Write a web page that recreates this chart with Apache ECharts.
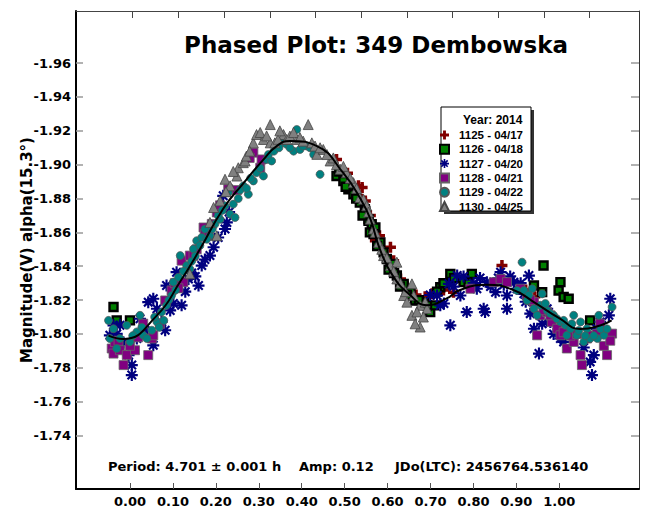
<!DOCTYPE html>
<html>
<head>
<meta charset="utf-8">
<title>Phased Plot: 349 Dembowska</title>
<script src="https://cdn.jsdelivr.net/npm/echarts@6.0.0/dist/echarts.min.js"></script>
<style>
  html, body { margin: 0; padding: 0; background: #fff; }
  #chart { width: 647px; height: 508px; }
</style>
</head>
<body>
<div id="chart"></div>
<script>
// tick labels
const xTicks = [0, 0.1, 0.2, 0.3, 0.4, 0.5, 0.6, 0.7, 0.8, 0.9, 1.0];
const yTicks = [-1.96, -1.94, -1.92, -1.90, -1.88, -1.86, -1.84, -1.82, -1.80, -1.78, -1.76, -1.74];

// sessions (legend names)
const sessions = ['1125 - 04/17', '1126 - 04/18', '1127 - 04/20', '1128 - 04/21', '1129 - 04/22', '1130 - 04/25'];

// [phase, magnitude]
const s1125 = [
  [0.446, -1.9031], [0.470, -1.8950], [0.494, -1.8875], [0.501, -1.8796], [0.502, -1.8865],
  [0.509, -1.8786], [0.520, -1.8700], [0.531, -1.8551], [0.540, -1.8580], [0.564, -1.8512],
  [0.571, -1.8433], [0.586, -1.8325], [0.600, -1.8280], [0.620, -1.8230], [0.640, -1.8220],
  [0.655, -1.8237], [0.680, -1.8260], [0.702, -1.8247], [0.808, -1.8404], [0.860, -1.8260],
  [0.880, -1.8220]
];
const s1126 = [
  [-0.042, -1.8159], [-0.035, -1.8080], [-0.006, -1.8080], [0.446, -1.8933], [0.461, -1.8904],
  [0.472, -1.8855], [0.483, -1.8825], [0.497, -1.8776], [0.508, -1.8737], [0.509, -1.8727],
  [0.516, -1.8678], [0.516, -1.8669], [0.519, -1.8600], [0.523, -1.8649], [0.531, -1.8629],
  [0.542, -1.8541], [0.549, -1.8482], [0.556, -1.8443], [0.567, -1.8414], [0.578, -1.8345],
  [0.593, -1.8296], [0.608, -1.8247], [0.618, -1.8198], [0.637, -1.8188], [0.651, -1.8129],
  [0.659, -1.8169], [0.673, -1.8276], [0.695, -1.8355], [0.724, -1.8306], [0.742, -1.8355],
  [0.878, -1.8286], [0.896, -1.8247], [0.899, -1.8404], [0.932, -1.8257], [0.936, -1.8306],
  [0.943, -1.8218], [0.954, -1.8208], [1.001, -1.8080],
  [0.452, -1.8960], [0.466, -1.8870], [0.489, -1.8800], [0.503, -1.8700], [0.527, -1.8590],
  [0.535, -1.8520], [0.560, -1.8380], [0.572, -1.8360], [0.585, -1.8280], [0.600, -1.8230],
  [0.626, -1.8200], [0.644, -1.8170], [0.666, -1.8250], [0.680, -1.8300], [0.703, -1.8330],
  [0.735, -1.8300]
];
const s1127 = [
  [-0.050, -1.7992], [-0.042, -1.8051], [-0.028, -1.8051], [-0.009, -1.7875], [-0.002, -1.7816],
  [-0.002, -1.7757], [0.009, -1.7973], [0.016, -1.8090], [0.034, -1.8188], [0.045, -1.8208],
  [0.045, -1.7933], [0.053, -1.8149], [0.063, -1.8071], [0.071, -1.8022], [0.074, -1.8286],
  [0.082, -1.8139], [0.096, -1.8365], [0.107, -1.8169], [0.122, -1.8325], [0.144, -1.8286],
  [0.151, -1.8404], [0.169, -1.8463], [0.177, -1.8512], [0.198, -1.8816], [0.202, -1.8620],
  [0.206, -1.8659],
  [-0.035, -1.8000], [-0.020, -1.7950], [0.027, -1.8020], [0.089, -1.8180], [0.115, -1.8250],
  [0.129, -1.8360], [0.137, -1.8340], [0.158, -1.8440], [0.187, -1.8570], [0.211, -1.8720],
  [0.666, -1.8227], [0.673, -1.8169], [0.692, -1.8296], [0.695, -1.8051], [0.710, -1.8345],
  [0.717, -1.8227], [0.731, -1.8129], [0.753, -1.8267], [0.768, -1.8149], [0.771, -1.8129],
  [0.775, -1.8306], [0.794, -1.8247], [0.805, -1.8365], [0.819, -1.8227], [0.819, -1.8149],
  [0.834, -1.8306], [0.841, -1.8267], [0.856, -1.8237], [0.867, -1.8345], [0.878, -1.8031],
  [0.889, -1.7884], [0.907, -1.8149], [0.914, -1.8071], [0.936, -1.7973], [0.943, -1.7953],
  [1.001, -1.7835], [1.005, -1.7757], [1.009, -1.7875], [1.023, -1.8071], [1.042, -1.8110],
  [1.045, -1.8208],
  [0.651, -1.8230], [0.681, -1.8180], [0.702, -1.8280], [0.724, -1.8340], [0.746, -1.8300],
  [0.760, -1.8330], [0.783, -1.8280], [0.800, -1.8330], [0.812, -1.8290], [0.826, -1.8340],
  [0.849, -1.8300], [0.860, -1.8190], [0.870, -1.8120], [0.896, -1.8060], [0.921, -1.8000],
  [0.965, -1.8010], [0.987, -1.7920], [1.016, -1.8030], [1.038, -1.8000]
];
const s1128 = [
  [-0.046, -1.7914], [-0.042, -1.7884], [-0.039, -1.7953], [-0.028, -1.7904], [-0.020, -1.7816],
  [-0.013, -1.7875], [0.005, -1.7904], [0.023, -1.8061], [0.034, -1.7875], [0.042, -1.7973],
  [0.045, -1.7992], [0.071, -1.8198], [0.085, -1.8257], [0.107, -1.8433], [0.111, -1.8306],
  [0.125, -1.8463], [0.155, -1.8629], [0.158, -1.8590], [0.166, -1.8580], [0.184, -1.8718],
  [0.209, -1.8855], [0.264, -1.9071], [0.279, -1.8982], [0.282, -1.9031],
  [-0.031, -1.7960], [-0.006, -1.7930], [0.012, -1.7980], [0.060, -1.8060], [0.092, -1.8300],
  [0.100, -1.8270], [0.133, -1.8460], [0.140, -1.8500], [0.173, -1.8650], [0.191, -1.8760],
  [0.228, -1.8850], [0.256, -1.9040],
  [0.739, -1.8267], [0.790, -1.8306], [0.805, -1.8325], [0.819, -1.8306], [0.848, -1.8267],
  [0.863, -1.8227], [0.878, -1.8188], [0.885, -1.7992], [0.892, -1.8110], [0.907, -1.8129],
  [0.917, -1.8071], [0.929, -1.8031], [0.936, -1.7992], [0.950, -1.7914], [0.965, -1.7953],
  [0.980, -1.7875], [0.983, -1.7816], [0.994, -1.7973], [1.009, -1.7992], [1.023, -1.8061],
  [1.038, -1.7875], [1.049, -1.8002],
  [0.870, -1.8200], [0.899, -1.8140], [0.914, -1.8110], [0.943, -1.8010], [0.958, -1.7990],
  [0.972, -1.8000], [1.001, -1.7990], [1.016, -1.8000], [1.031, -1.7930], [1.045, -1.7960]
];
const s1129 = [
  [-0.053, -1.8080], [-0.050, -1.7973], [-0.042, -1.8031], [-0.035, -1.7914], [-0.028, -1.7973],
  [-0.013, -1.8051], [-0.006, -1.7953], [0.009, -1.8012], [0.016, -1.8110], [0.023, -1.7992],
  [0.031, -1.7973], [0.042, -1.8022], [0.053, -1.8071], [0.063, -1.8129], [0.074, -1.8169],
  [0.085, -1.8227], [0.089, -1.8306], [0.100, -1.8335], [0.104, -1.8463], [0.118, -1.8404],
  [0.125, -1.8384], [0.133, -1.8502], [0.140, -1.8551], [0.147, -1.8522], [0.158, -1.8620],
  [0.169, -1.8580], [0.180, -1.8649], [0.191, -1.8678], [0.202, -1.8757], [0.209, -1.8835],
  [0.213, -1.8708], [0.220, -1.8767], [0.224, -1.8688], [0.242, -1.8875], [0.253, -1.8825],
  [0.264, -1.8904], [0.271, -1.8953], [0.286, -1.8933], [0.293, -1.9031], [0.304, -1.9022],
  [0.315, -1.9110], [0.326, -1.9129], [0.352, -1.9080], [0.359, -1.9208], [0.366, -1.9090],
  [0.381, -1.9110], [0.410, -1.8943],
  [0.000, -1.7990], [0.020, -1.8040], [0.048, -1.8100], [0.058, -1.8040], [0.068, -1.8080],
  [0.079, -1.8200], [0.094, -1.8260], [0.111, -1.8370], [0.129, -1.8430], [0.137, -1.8460],
  [0.151, -1.8570], [0.162, -1.8560], [0.174, -1.8620], [0.187, -1.8700], [0.196, -1.8730],
  [0.231, -1.8800], [0.235, -1.8850], [0.249, -1.8860], [0.258, -1.8920], [0.279, -1.8980],
  [0.297, -1.9060], [0.309, -1.9080], [0.320, -1.9100], [0.337, -1.9120], [0.344, -1.9100],
  [0.373, -1.9110], [0.388, -1.9100], [0.396, -1.9060],
  [0.841, -1.8257], [0.852, -1.8424], [0.856, -1.8257], [0.863, -1.8198], [0.874, -1.8267],
  [0.878, -1.8149], [0.885, -1.8110], [0.892, -1.8169], [0.896, -1.8237], [0.907, -1.8139],
  [0.921, -1.8110], [0.936, -1.8071], [0.947, -1.8051], [0.950, -1.7992], [0.958, -1.8031],
  [0.965, -1.8110], [0.972, -1.7992], [0.980, -1.8071], [0.987, -1.7953], [0.994, -1.8031],
  [1.001, -1.7973], [1.017, -1.7973], [1.020, -1.8110], [1.031, -1.7992], [1.049, -1.8159],
  [0.867, -1.8230], [0.903, -1.8180], [0.914, -1.8120], [0.928, -1.8090], [0.943, -1.8080],
  [0.961, -1.8060], [0.976, -1.8020], [0.990, -1.7990], [1.009, -1.7990], [1.024, -1.8030],
  [1.038, -1.8030]
];
const s1130 = [
  [0.125, -1.8355], [0.169, -1.8659], [0.177, -1.8747], [0.184, -1.8580], [0.191, -1.8786],
  [0.202, -1.8914], [0.213, -1.8875], [0.228, -1.8933], [0.231, -1.8982], [0.242, -1.9012],
  [0.246, -1.9022], [0.249, -1.9051], [0.264, -1.9129], [0.271, -1.9178], [0.286, -1.9149],
  [0.301, -1.9237], [0.301, -1.9129], [0.311, -1.9129], [0.330, -1.9178], [0.337, -1.9149],
  [0.344, -1.9169], [0.359, -1.9149], [0.373, -1.9139], [0.384, -1.9237], [0.392, -1.9129],
  [0.403, -1.9061], [0.417, -1.9090], [0.432, -1.9022], [0.454, -1.8973], [0.468, -1.8953],
  [0.483, -1.8894], [0.497, -1.8806], [0.505, -1.8796], [0.512, -1.8757], [0.520, -1.8678],
  [0.538, -1.8541], [0.549, -1.8463], [0.564, -1.8404], [0.578, -1.8424], [0.578, -1.8325],
  [0.593, -1.8227], [0.600, -1.8188], [0.611, -1.8296], [0.611, -1.8110], [0.615, -1.8227],
  [0.629, -1.8169], [0.629, -1.8041], [0.640, -1.8188], [0.644, -1.8149],
  [0.439, -1.9040], [0.446, -1.9000], [0.461, -1.8990], [0.476, -1.8920], [0.490, -1.8860],
  [0.516, -1.8720], [0.527, -1.8620], [0.531, -1.8600], [0.545, -1.8500], [0.556, -1.8450],
  [0.571, -1.8370], [0.586, -1.8300], [0.597, -1.8250], [0.622, -1.8130], [0.636, -1.8100],
  [0.618, -1.8060], [0.204, -1.8840], [0.220, -1.8960], [0.256, -1.9080], [0.279, -1.9190],
  [0.293, -1.9170], [0.318, -1.9150], [0.322, -1.9200], [0.352, -1.9190], [0.366, -1.9160],
  [0.399, -1.9110], [0.410, -1.9100], [0.425, -1.9060]
];
// fitted curve
const fitCurve = [
  [-0.053, -1.799], [-0.021, -1.797], [0.053, -1.811], [0.104, -1.831], [0.147, -1.850],
  [0.198, -1.874], [0.242, -1.889], [0.286, -1.903], [0.315, -1.911], [0.344, -1.914],
  [0.403, -1.911], [0.461, -1.895], [0.498, -1.880], [0.520, -1.868], [0.541, -1.850],
  [0.570, -1.834], [0.607, -1.823], [0.643, -1.817], [0.687, -1.821], [0.716, -1.826],
  [0.775, -1.829], [0.833, -1.826], [0.877, -1.819], [0.935, -1.809], [0.979, -1.803],
  [1.023, -1.805], [1.048, -1.808]
];

// symbols
const plusPath = 'path://M3.4,0H6.6V3.4H10V6.6H6.6V10H3.4V6.6H0V3.4H3.4Z';
const squarePath = 'path://M0,0H10V10H0Z';
const trianglePath = 'path://M5,0L10,10L0,10Z';
function asteriskPath(bars) {
  let d = '';
  for (let i = 0; i < bars; i++) {
    const a = Math.PI * i / bars;
    const c = Math.cos(a), s = Math.sin(a);
    const pts = [[-10, -1.8], [10, -1.8], [10, 1.8], [-10, 1.8]]
      .map(([u, v]) => (10 + u * c - v * s).toFixed(2) + ',' + (10 + u * s + v * c).toFixed(2));
    d += 'M' + pts.join('L') + 'Z';
  }
  return 'path://' + d;
}
const starPath = asteriskPath(4);
const legendIcons = [plusPath, squarePath, starPath, squarePath, 'circle', trianglePath];

const FONT = 'DejaVu Sans';
const chart = echarts.init(document.getElementById('chart'), null, { renderer: 'svg' });

const scatter = (name, data, symbol, size, color, border, bw) => ({
  name, type: 'scatter', data, symbol, symbolSize: size,
  xAxisIndex: 1, yAxisIndex: 0,
  itemStyle: { color, borderColor: border, borderWidth: bw, opacity: 1 },
  emphasis: { disabled: true }
});

const option = {
  animation: false,
  grid: { left: 76, right: 8, top: 11, bottom: 17 },
  graphic: [
    { type: 'text', x: 376, y: 45, z: 10,
      style: { text: 'Phased Plot: 349 Dembowska', fontFamily: FONT, fontWeight: 'bold', fontSize: 23,
        fill: '#000', align: 'center', verticalAlign: 'middle' } },
    { type: 'text', x: 108, y: 466, z: 10,
      style: { text: 'Period: 4.701 ± 0.001 h', fontFamily: FONT, fontWeight: 'bold', fontSize: 13,
        fill: '#000', align: 'left', verticalAlign: 'middle' } },
    { type: 'text', x: 299, y: 466, z: 10,
      style: { text: 'Amp: 0.12', fontFamily: FONT, fontWeight: 'bold', fontSize: 13,
        fill: '#000', align: 'left', verticalAlign: 'middle' } },
    { type: 'text', x: 395, y: 466, z: 10,
      style: { text: 'JDo(LTC): 2456764.536140', fontFamily: FONT, fontWeight: 'bold', fontSize: 13,
        fill: '#000', align: 'left', verticalAlign: 'middle' } },
    // legend box with drop shadow
    { type: 'rect', z: 20, shape: { x: 444, y: 110, width: 90, height: 104 }, style: { fill: '#333' } },
    { type: 'rect', z: 21, shape: { x: 441, y: 107, width: 90, height: 104 },
      style: { fill: '#fff', stroke: '#000', lineWidth: 1 } },
    { type: 'text', x: 463, y: 120, z: 22,
      style: { text: 'Year: 2014', fontFamily: 'Liberation Sans', fontWeight: 'bold', fontSize: 12,
        fill: '#000', align: 'left', verticalAlign: 'middle' } }
  ],
  legend: {
    data: sessions.map((name, i) => ({ name, icon: legendIcons[i] })),
    orient: 'vertical', left: 439, top: 129, z: 30,
    itemWidth: 19, itemHeight: 9, itemGap: 2.3, padding: 0, selectedMode: false, symbolKeepAspect: true,
    textStyle: { fontFamily: 'Liberation Sans', fontWeight: 'bold', fontSize: 11.5, color: '#000', lineHeight: 12 }
  },
  xAxis: [
    { type: 'value', position: 'bottom', min: -0.1258, max: 1.1857,
      axisLine: { show: true, onZero: false, lineStyle: { color: '#000', width: 2 } },
      axisTick: { show: true, inside: true, length: 6, customValues: xTicks, lineStyle: { color: '#555', width: 1 } },
      axisLabel: { show: true, customValues: xTicks, margin: 6, formatter: v => v.toFixed(2),
        fontFamily: FONT, fontWeight: 'bold', fontSize: 13, color: '#000' },
      splitLine: { show: false } },
    { type: 'value', position: 'top', min: -0.1241, max: 1.1079,
      axisLine: { show: true, onZero: false, lineStyle: { color: '#444', width: 1 } },
      axisTick: { show: true, inside: true, length: 7, customValues: xTicks, lineStyle: { color: '#444', width: 1 } },
      axisLabel: { show: false },
      splitLine: { show: false } }
  ],
  yAxis: [
    { type: 'value', position: 'left', inverse: true, min: -1.9908, max: -1.7084,
      name: 'Magnitude(V) alpha(15.3°)', nameLocation: 'middle', nameGap: 42, nameMoveOverlap: false,
      nameTextStyle: { fontFamily: FONT, fontWeight: 'bold', fontSize: 15, color: '#000' },
      axisLine: { show: true, onZero: false, lineStyle: { color: '#000', width: 2 } },
      axisTick: { show: true, inside: true, length: 7, customValues: yTicks, lineStyle: { color: '#999', width: 1.5 } },
      axisLabel: { show: true, customValues: yTicks, margin: 5, formatter: v => v.toFixed(2),
        fontFamily: FONT, fontWeight: 'bold', fontSize: 13, color: '#000' },
      splitLine: { show: false } },
    { type: 'value', position: 'right', inverse: true, min: -1.9908, max: -1.7084,
      axisLine: { show: true, onZero: false, lineStyle: { color: '#333', width: 1 } },
      axisTick: { show: true, inside: true, length: 8, customValues: yTicks, lineStyle: { color: '#999', width: 1.5 } },
      axisLabel: { show: false },
      splitLine: { show: false } }
  ],
  series: [
    scatter(sessions[0], s1125, plusPath, 11, '#800000', '#800000', 0),
    scatter(sessions[1], s1126, 'rect', 8, '#008000', '#000', 2.4),
    scatter(sessions[2], s1127, starPath, 12, '#000080', '#000080', 0),
    scatter(sessions[3], s1128, 'rect', 9, '#800080', '#666', 0.8),
    scatter(sessions[4], s1129, 'circle', 8, '#008080', '#555', 0.7),
    scatter(sessions[5], s1130, 'triangle', 10, '#808080', '#444', 0.8),
    { name: 'fit', type: 'line', data: fitCurve, xAxisIndex: 1, yAxisIndex: 0,
      smooth: true, showSymbol: false, z: 3,
      lineStyle: { color: '#000', width: 2 }, emphasis: { disabled: true } }
  ]
};

chart.setOption(option);
</script>
</body>
</html>
